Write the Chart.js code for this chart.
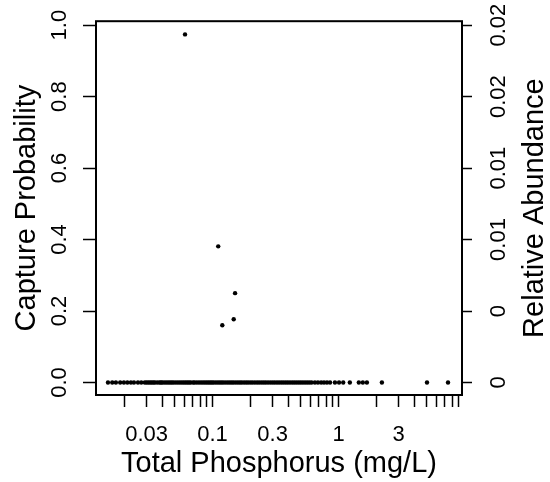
<!DOCTYPE html>
<html>
<head>
<meta charset="utf-8">
<script src="https://cdn.jsdelivr.net/npm/chart.js@4.4.1/dist/chart.umd.min.js"></script>
<style>
  html, body { margin: 0; padding: 0; background: #fff; }
</style>
</head>
<body>
<canvas id="chart" width="550" height="482"></canvas>
<script>
// Lakes where the species was caught (capture probability > 0)
const tpPositive = [0.0605, 0.111, 0.151, 0.1473, 0.1196]
const capturePositive = [0.974, 0.381, 0.25, 0.177, 0.16]

// Lakes with zero capture probability, total phosphorus (mg/L)
const tpZero = [
  0.0148, 0.016, 0.0171, 0.0185, 0.0198, 0.0211, 0.0225, 0.0238, 0.0256, 0.0272,
  0.029, 0.03, 0.031, 0.032, 0.033, 0.034, 0.035, 0.0365, 0.038, 0.039,
  0.04, 0.0415, 0.043, 0.0445, 0.046, 0.0475, 0.049, 0.051, 0.053, 0.055,
  0.057, 0.059, 0.061, 0.063, 0.065, 0.067, 0.07, 0.072, 0.075, 0.078,
  0.081, 0.084, 0.087, 0.09, 0.093, 0.096, 0.099, 0.102, 0.106, 0.11,
  0.114, 0.118, 0.122, 0.127, 0.132, 0.137, 0.142, 0.147, 0.153, 0.159,
  0.165, 0.171, 0.178, 0.185, 0.192, 0.2, 0.208, 0.217, 0.226, 0.235,
  0.245, 0.255, 0.265, 0.276, 0.288, 0.3, 0.312, 0.325, 0.338, 0.352,
  0.366, 0.381, 0.396, 0.412, 0.429, 0.446, 0.464, 0.483, 0.502, 0.522,
  0.543, 0.565, 0.588, 0.612, 0.65, 0.687, 0.728, 0.767, 0.81, 0.857,
  0.937, 1.01, 1.09, 1.23, 1.45, 1.56, 1.68, 2.21, 5.04, 7.4
]

const yTicks = [0, 0.2, 0.4, 0.6, 0.8, 1.0]
const rightTickLabels = ["0", "0", "0.01", "0.01", "0.02", "0.02"]
const xTicks = [
  0.02, 0.03, 0.04, 0.05, 0.06, 0.07, 0.08, 0.09,
  0.1, 0.2, 0.3, 0.4, 0.5, 0.6, 0.7, 0.8, 0.9,
  1, 2, 3, 4, 5, 6, 7, 8, 9
]
const xLabelled = [0.03, 0.1, 0.3, 1, 3]

const FONT = "'Liberation Sans', Arial, Helvetica, sans-serif"

const points = tpZero.map((x) => ({ x: x, y: 0 }))
  .concat(tpPositive.map((x, i) => ({ x: x, y: capturePositive[i] })))

// box around plot + right-hand title (reads bottom to top like the left one)
const framePlugin = {
  id: "frame",
  afterDraw(chart) {
    const { ctx, chartArea: a } = chart
    ctx.save()
    ctx.strokeStyle = "#000"
    ctx.lineWidth = 2
    ctx.strokeRect(a.left, a.top, a.right - a.left, a.bottom - a.top)
    ctx.fillStyle = "#000"
    ctx.font = "29px " + FONT
    ctx.textAlign = "center"
    ctx.textBaseline = "middle"
    ctx.translate(535, (a.top + a.bottom) / 2)
    ctx.rotate(-Math.PI / 2)
    ctx.fillText("Relative Abundance", 0, 0)
    ctx.restore()
  }
}

new Chart(document.getElementById("chart"), {
  type: "scatter",
  data: {
    datasets: [{
      data: points,
      pointRadius: 2.2,
      pointBackgroundColor: "#000",
      pointBorderWidth: 0,
      pointHoverRadius: 2.2
    }]
  },
  options: {
    responsive: false,
    animation: false,
    layout: { padding: { top: 20, left: 0, right: 0, bottom: 0 } },
    plugins: { legend: { display: false }, tooltip: { enabled: false } },
    scales: {
      x: {
        type: "logarithmic",
        min: 0.01189,
        max: 9.555,
        afterBuildTicks: (s) => { s.ticks = xTicks.map((v) => ({ value: v })) },
        afterFit: (s) => { s.height = 87 },
        border: { display: false },
        grid: { drawOnChartArea: false, drawTicks: true, tickLength: 12, tickColor: "#000", tickWidth: 1.5 },
        ticks: {
          autoSkip: false, maxRotation: 0, minRotation: 0, padding: 15, color: "#000",
          font: { family: FONT, size: 22 },
          callback: (v) => xLabelled.includes(v) ? String(v) : ""
        },
        title: { display: true, text: "Total Phosphorus (mg/L)", color: "#000",
          font: { family: FONT, size: 29, lineHeight: 1 }, padding: { top: 0, bottom: 4 } }
      },
      y: {
        position: "left",
        min: -0.035,
        max: 1.011,
        afterBuildTicks: (s) => { s.ticks = yTicks.map((v) => ({ value: v })) },
        afterFit: (s) => { s.width = 96 },
        border: { display: false },
        grid: { drawOnChartArea: false, drawTicks: true, tickLength: 13, tickColor: "#000", tickWidth: 1.5 },
        ticks: {
          minRotation: 90, maxRotation: 90, crossAlign: "center", padding: 8, color: "#000",
          font: { family: FONT, size: 22 },
          callback: (v) => v.toFixed(1)
        },
        title: { display: true, text: "Capture Probability", color: "#000",
          font: { family: FONT, size: 29, lineHeight: 1 }, padding: { top: 12, bottom: 0 } }
      },
      y2: {
        position: "right",
        min: -0.035,
        max: 1.011,
        afterBuildTicks: (s) => { s.ticks = yTicks.map((v) => ({ value: v })) },
        afterFit: (s) => { s.width = 88 },
        border: { display: false },
        grid: { drawOnChartArea: false, drawTicks: true, tickLength: 10, tickColor: "#000", tickWidth: 1.5 },
        ticks: {
          minRotation: 90, maxRotation: 90, crossAlign: "center", padding: 6, color: "#000",
          font: { family: FONT, size: 22 },
          callback: (v, i) => rightTickLabels[i]
        }
      }
    }
  },
  plugins: [framePlugin]
})
</script>
</body>
</html>
